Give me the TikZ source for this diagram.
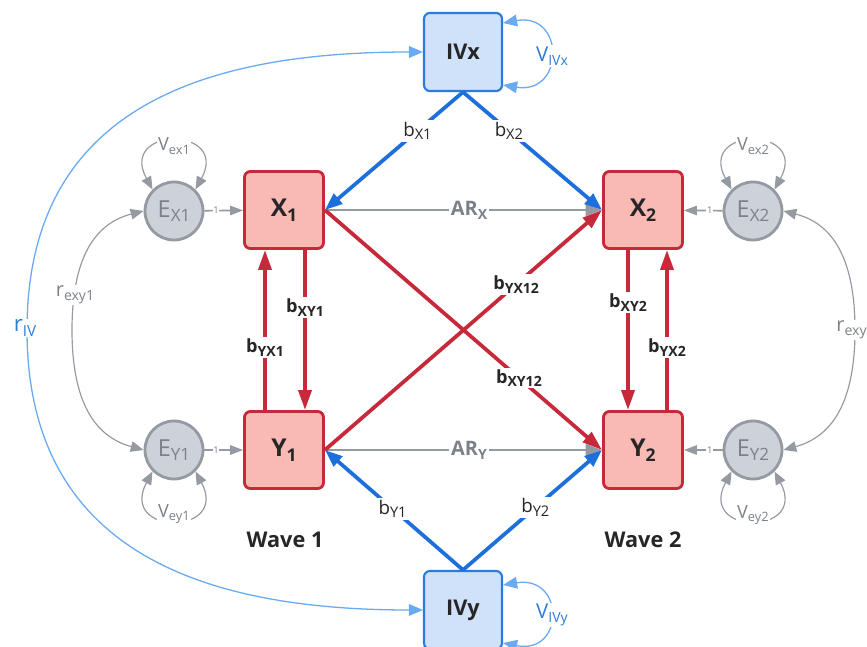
\documentclass[tikz,border=0pt]{standalone}
\usepackage{fontspec}
\setmainfont{Open Sans}
\usetikzlibrary{arrows.meta}
\definecolor{redc}{HTML}{C62A3A}
\definecolor{redfill}{HTML}{F9BAB4}
\definecolor{bluec}{HTML}{1D70DB}
\definecolor{bluebd}{HTML}{2B7BDC}
\definecolor{bluefill}{HTML}{CFE2FA}
\definecolor{lblue}{HTML}{69AAF0}
\definecolor{bluetext}{HTML}{2F7BD8}
\definecolor{grayc}{HTML}{959AA2}
\definecolor{grayfill}{HTML}{CDD1D8}
\definecolor{graytext}{HTML}{7C8189}
\definecolor{dark}{HTML}{262626}
\newcommand\sbx[3]{#1\raisebox{-0.2em}{\fontsize{#2}{#2}\selectfont #3}}
\begin{document}
\begin{tikzpicture}[x=0.03cm,y=0.03cm,
  redbox/.style={draw=redc,fill=redfill,line width=2.4pt,rounded corners=5pt,minimum width=2.37cm,minimum height=2.31cm,inner sep=0pt,text=dark,font=\fontsize{21}{23}\selectfont\bfseries},
  ivbox/.style={draw=bluebd,fill=bluefill,line width=1.8pt,rounded corners=5pt,minimum width=2.34cm,minimum height=2.34cm,inner sep=0pt,text=dark,font=\fontsize{18.5}{20}\selectfont\bfseries},
  ecirc/.style={circle,draw=grayc,fill=grayfill,line width=2.4pt,minimum size=1.74cm,inner sep=0pt,text=graytext,font=\fontsize{20}{22}\selectfont},
  redarr/.style={draw=redc,line width=3.2pt,-{Triangle[length=17pt,width=11pt]}},
  bluearr/.style={draw=bluec,line width=3.2pt,-{Triangle[length=15pt,width=11pt]}},
  ararr/.style={draw=grayc,line width=2.4pt,-{Triangle[length=14pt,width=10pt]}},
  earr/.style={draw=grayc,line width=1.4pt,-{Triangle[length=11pt,width=8pt]}},
  thinloop/.style={draw=grayc,line width=1pt,{Triangle[length=11pt,width=9pt]}-{Triangle[length=11pt,width=9pt]}},
  blueloop/.style={draw=lblue,line width=1.1pt,{Triangle[length=12pt,width=10pt]}-{Triangle[length=12pt,width=10pt]}},
  lab/.style={fill=white,inner sep=1.5pt,text=dark,font=\fontsize{16}{18}\selectfont},
  blab/.style={fill=white,inner sep=1.5pt,text=dark,font=\fontsize{15.5}{17}\selectfont\bfseries},
  arlab/.style={fill=white,inner sep=1.5pt,text=graytext,font=\fontsize{17}{19}\selectfont\bfseries},
  one/.style={fill=white,inner sep=0.6pt,text=graytext,font=\fontsize{8}{9}\selectfont},
  vlab/.style={fill=white,inner sep=1pt,text=graytext,font=\fontsize{15.5}{17}\selectfont},
  ivlab/.style={fill=white,inner sep=1pt,text=bluetext,font=\fontsize{17.5}{19}\selectfont},
  wave/.style={text=dark,font=\fontsize{18.5}{20}\selectfont\bfseries}
]
\useasboundingbox (0,0) rectangle (867,-647);

% nodes
\node[ivbox] (IVx) at (463,-52) {IVx};
\node[ivbox] (IVy) at (463,-610) {IVy};
\node[redbox] (X1) at (284,-210) {\sbx{X}{15}{1}};
\node[redbox] (X2) at (643,-210) {\sbx{X}{15}{2}};
\node[redbox] (Y1) at (284,-450) {\sbx{Y}{15}{1}};
\node[redbox] (Y2) at (643,-450) {\sbx{Y}{15}{2}};
\node[ecirc] (EX1) at (174,-211) {\sbx{E}{14.5}{X1}};
\node[ecirc] (EX2) at (753,-211) {\sbx{E}{14.5}{X2}};
\node[ecirc] (EY1) at (174,-450) {\sbx{E}{14.5}{Y1}};
\node[ecirc] (EY2) at (753,-450) {\sbx{E}{14.5}{Y2}};
\node[wave] (w1) at (285,-540) {Wave 1};
\node[wave] (w2) at (643,-540) {Wave 2};

% correlations
\draw[blueloop] (IVx.west) .. controls (200,-52) and (27,-110) .. (27,-330)
   .. controls (27,-550) and (200,-610) .. (IVy.west);
\node[ivlab,font=\fontsize{19}{21}\selectfont] (rIV) at (25,-328) {\sbx{r}{13}{IV}};
\draw[thinloop] (EX1.west) .. controls (100,-222) and (72,-250) .. (72,-330)
   .. controls (72,-410) and (100,-438) .. (EY1.west);
\node[vlab,font=\fontsize{17}{19}\selectfont] (rexy1) at (75,-295) {\sbx{r}{12}{exy1}};
\draw[thinloop] (EX2.east) .. controls (827,-222) and (855,-250) .. (855,-330)
   .. controls (855,-410) and (827,-438) .. (EY2.east);
\node[vlab,font=\fontsize{17}{19}\selectfont,anchor=west] (rexy2) at (835,-330) {\sbx{r}{12}{exy}};

% variance loops
\draw[blueloop] ([yshift=0.87cm]IVx.east) .. controls (565,-12) and (565,-95) .. ([yshift=-0.99cm]IVx.east);
\node[ivlab] (vivx) at (552,-56) {\sbx{V}{12}{IVx}};
\draw[blueloop] ([yshift=0.75cm]IVy.east) .. controls (565,-575) and (565,-655) .. ([yshift=-0.99cm]IVy.east);
\node[ivlab] (vivy) at (552,-615) {\sbx{V}{12}{IVy}};

\draw[thinloop] (EX1.135) .. controls (118,-126) and (230,-126) .. (EX1.45);
\node[vlab] (vex1) at (174,-146) {\sbx{V}{11}{ex1}};
\draw[thinloop] (EX2.135) .. controls (697,-126) and (809,-126) .. (EX2.45);
\node[vlab] (vex2) at (753,-146) {\sbx{V}{11}{ex2}};
\draw[thinloop] (EY1.-135) .. controls (118,-536) and (230,-536) .. (EY1.-45);
\node[vlab] (vey1) at (174,-514) {\sbx{V}{11}{ey1}};
\draw[thinloop] (EY2.-135) .. controls (697,-536) and (809,-536) .. (EY2.-45);
\node[vlab] (vey2) at (753,-515) {\sbx{V}{11}{ey2}};

% error paths
\draw[earr] (EX1) -- node[one,pos=0.3]{1} (X1);
\draw[earr] (EY1) -- node[one,pos=0.3]{1} (Y1);
\draw[earr] (EX2) -- node[one,pos=0.33]{1} (X2);
\draw[earr] (EY2) -- node[one,pos=0.33]{1} (Y2);

% autoregressive
\draw[ararr] (X1.east) -- node[arlab,pos=0.52]{\sbx{AR}{12}{X}} (X2.west);
\draw[ararr] (Y1.east) -- node[arlab,pos=0.52]{\sbx{AR}{12}{Y}} (Y2.west);

% cross-lagged
\draw[redarr] (X1.east) -- node[blab,pos=0.70]{\sbx{b}{12}{XY12}} (Y2.west);
\draw[redarr] (Y1.east) -- node[blab,pos=0.69]{\sbx{b}{12}{YX12}} (X2.west);

% within-wave
\draw[redarr] ([xshift=0.63cm]X1.south) -- node[blab,pos=0.36]{\sbx{b}{12}{XY1}} ([xshift=0.63cm]Y1.north);
\draw[redarr] ([xshift=-0.57cm]Y1.north) -- node[blab,pos=0.39]{\sbx{b}{12}{YX1}} ([xshift=-0.57cm]X1.south);
\draw[redarr] ([xshift=-0.45cm]X2.south) -- node[blab,pos=0.33]{\sbx{b}{12}{XY2}} ([xshift=-0.45cm]Y2.north);
\draw[redarr] ([xshift=0.72cm]Y2.north) -- node[blab,pos=0.39]{\sbx{b}{12}{YX2}} ([xshift=0.72cm]X2.south);

% instruments
\draw[bluearr] (IVx.south) -- node[lab,pos=0.33]{\sbx{b}{12.5}{X1}} (X1.east);
\draw[bluearr] (IVx.south) -- node[lab,pos=0.33]{\sbx{b}{12.5}{X2}} (X2.west);
\draw[bluearr] (IVy.north) -- node[lab,pos=0.51]{\sbx{b}{12.5}{Y1}} (Y1.east);
\draw[bluearr] (IVy.north) -- node[lab,pos=0.52]{\sbx{b}{12.5}{Y2}} (Y2.west);
\end{tikzpicture}
\end{document}
